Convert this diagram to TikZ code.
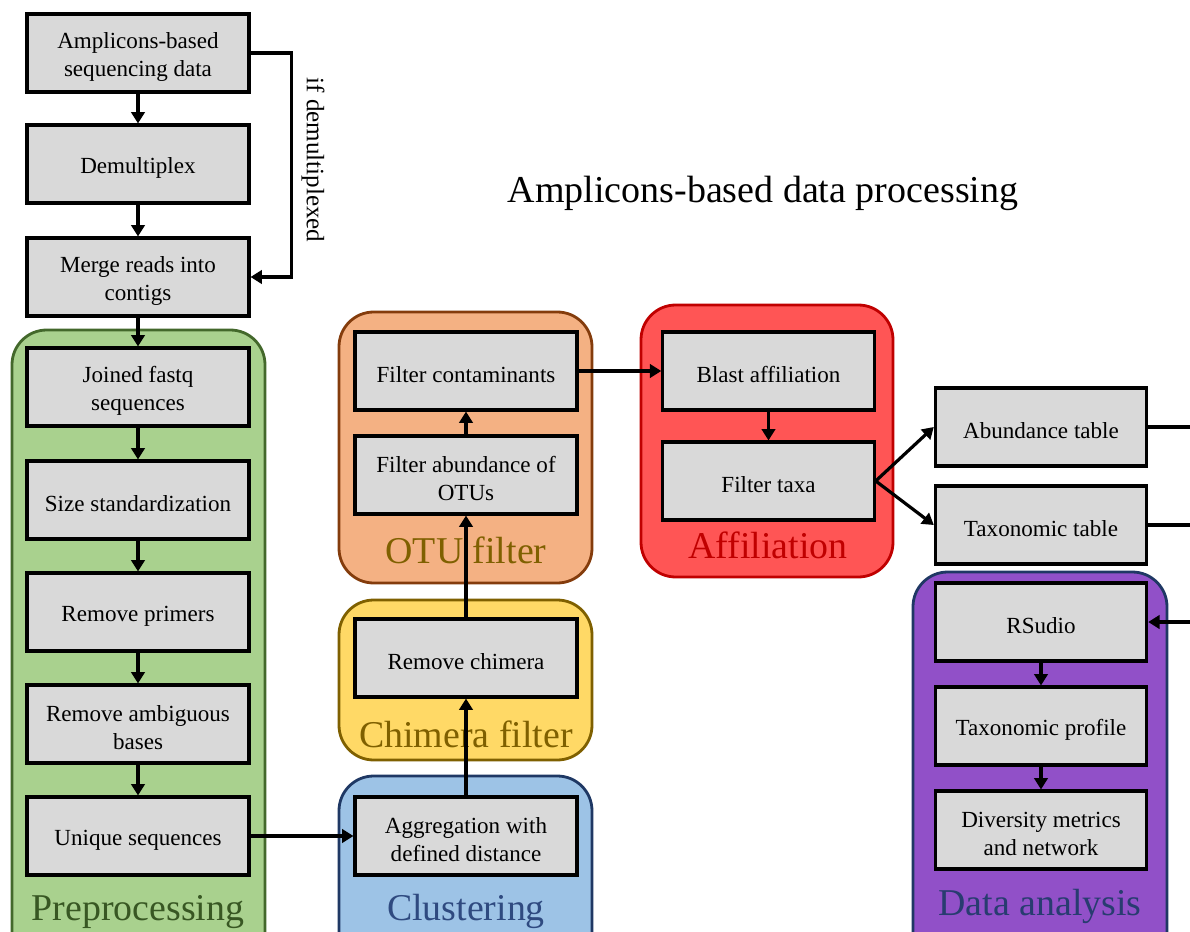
\documentclass[tikz,border=0pt]{standalone}
\usepackage{fontspec}
\setmainfont{Liberation Serif}
\usetikzlibrary{arrows.meta}
\definecolor{boxfill}{HTML}{D9D9D9}
\definecolor{preFill}{HTML}{A9D18E}\definecolor{preLine}{HTML}{43682B}\definecolor{preText}{HTML}{385723}
\definecolor{otuFill}{HTML}{F4B183}\definecolor{otuLine}{HTML}{843C0C}\definecolor{otuText}{HTML}{7F6000}
\definecolor{chiFill}{HTML}{FFD966}\definecolor{chiLine}{HTML}{7F6000}\definecolor{chiText}{HTML}{7F6000}
\definecolor{cluFill}{HTML}{9DC3E6}\definecolor{cluLine}{HTML}{1F3864}\definecolor{cluText}{HTML}{2F4A80}
\definecolor{affFill}{HTML}{FF5555}\definecolor{affLine}{HTML}{C00000}\definecolor{affText}{HTML}{C00000}
\definecolor{datFill}{HTML}{9150C8}\definecolor{datLine}{HTML}{1F3864}\definecolor{datText}{HTML}{283C70}
\newcommand{\stt}{\rule{0pt}{18pt}}
\tikzset{
  stepbox/.style={draw=black, fill=boxfill, line width=2.3pt, minimum width=166.5pt, minimum height=58.5pt,
    inner sep=0pt, align=center, font=\fontsize{17.3}{21}\selectfont},
  rbox/.style={stepbox, minimum width=158.5pt},
  grp/.style={line width=2.1pt, rounded corners=26pt},
  grplabel/.style={anchor=base, inner sep=0pt, font=\fontsize{28.4}{32}\selectfont},
  arr/.style={line width=2.4pt, -{Triangle[length=8.5pt,width=10pt]}},
  conn/.style={line width=2.4pt}
}
\begin{document}
\begin{tikzpicture}[x=0.75pt,y=-0.75pt]
\clip (0,0) rectangle (1190,932);
\fill[white] (0,0) rectangle (1190,932);
% groups
\draw[grp, draw=preLine, fill=preFill] (12,330) rectangle (265,980);
\draw[grp, draw=otuLine, fill=otuFill] (339,312) rectangle (592,583);
\draw[grp, draw=chiLine, fill=chiFill] (339,600) rectangle (592,760);
\draw[grp, draw=cluLine, fill=cluFill] (339,776) rectangle (592,980);
\draw[grp, draw=affLine, fill=affFill] (641,305) rectangle (893,577);
\draw[grp, draw=datLine, fill=datFill] (913,572) rectangle (1167,980);
% group labels
\node[grplabel, text=preText] (lpre) at (138,920) {Preprocessing};
\node[grplabel, text=otuText] (lotu) at (466,563) {OTU filter};
\node[grplabel, text=chiText] (lchi) at (466,747) {Chimera filter};
\node[grplabel, text=cluText] (lclu) at (466,920) {Clustering};
\node[grplabel, text=affText] (laff) at (768,558) {Affiliation};
\node[grplabel, text=datText] (ldat) at (1040,915) {Data analysis};
% title
\node[font=\fontsize{28.5}{32}\selectfont, inner sep=0pt] (title) at (763,193) {Amplicons-based data processing};
% left column
\node[stepbox] (amp) at (138,53) {\stt Amplicons-based\\sequencing data};
\node[stepbox] (demux) at (138,164) {\stt Demultiplex};
\node[stepbox] (merge) at (138,277) {\stt Merge reads into\\contigs};
\node[stepbox] (joined) at (138,387) {\stt Joined fastq\\sequences};
\node[stepbox] (size) at (138,500) {\stt Size standardization};
\node[stepbox] (primers) at (138,612) {\stt Remove primers};
\node[stepbox] (ambig) at (138,724) {\stt Remove ambiguous\\bases};
\node[stepbox] (unique) at (138,836) {\stt Unique sequences};
% middle column
\node[stepbox] (contam) at (466,371) {\stt Filter contaminants};
\node[stepbox] (abfilt) at (466,475) {\stt Filter abundance of\\OTUs};
\node[stepbox] (chim) at (466,658) {\stt Remove chimera};
\node[stepbox] (aggr) at (466,836) {\stt Aggregation with\\defined distance};
% affiliation
\node[rbox] (blast) at (768.5,371) {\stt Blast affiliation};
\node[rbox] (taxa) at (768.5,481) {\stt Filter taxa};
% right
\node[rbox] (abund) at (1041,427) {\stt Abundance table};
\node[rbox] (taxtab) at (1041,525) {\stt Taxonomic table};
\node[rbox] (rs) at (1041,622) {\stt RSudio};
\node[rbox] (prof) at (1041,726) {\stt Taxonomic profile};
\node[rbox] (div) at (1041,830) {\stt Diversity metrics\\and network};
% bypass label
\node[rotate=-90, inner sep=0pt, font=\fontsize{18.8}{22}\selectfont] (ifdem) at (313,160) {if demultiplexed};
% connectors
\draw[arr] (amp) -- (demux);
\draw[arr] (demux) -- (merge);
\draw[arr] (amp.east) -- ++(41,0) |- (merge.east);
\draw[arr] (merge) -- (joined);
\draw[arr] (joined) -- (size);
\draw[arr] (size) -- (primers);
\draw[arr] (primers) -- (ambig);
\draw[arr] (ambig) -- (unique);
\draw[arr] (unique) -- (aggr);
\draw[arr] (aggr) -- (chim);
\draw[arr] (chim) -- (abfilt);
\draw[arr] (abfilt) -- (contam);
\draw[arr] (contam) -- (blast);
\draw[arr] (blast) -- (taxa);
\draw[arr] (taxa.east) -- (abund.west);
\draw[arr] (taxa.east) -- (taxtab.west);
\coordinate (eA) at (1190,427);
\coordinate (eT) at (1190,525);
\coordinate (eR) at (1190,622);
\draw[conn] (abund.east) -- (eA);
\draw[conn] (taxtab.east) -- (eT);
\draw[arr] (eR) -- (rs.east);
\draw[arr] (rs) -- (prof);
\draw[arr] (prof) -- (div);
\end{tikzpicture}
\end{document}
